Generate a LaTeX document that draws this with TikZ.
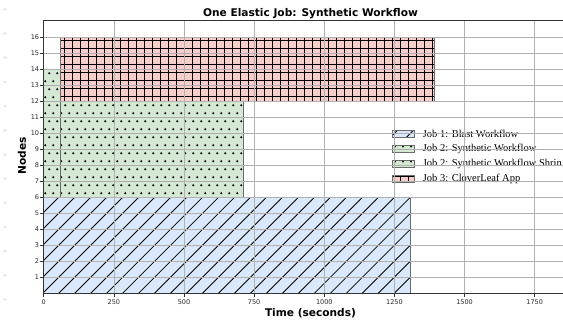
\documentclass[tikz,border=0pt]{standalone}
\usepackage{fontspec}
\newfontfamily\plotsans{DejaVu Sans}
\newfontfamily\legserif{Liberation Serif}
\usetikzlibrary{patterns.meta}

\definecolor{blastfill}{HTML}{DAE8FC}
\definecolor{synthfill}{HTML}{D5E8D4}
\definecolor{cloverfill}{HTML}{F8CECC}
\definecolor{gridc}{HTML}{B0B0B0}
\definecolor{spinec}{HTML}{333333}
\definecolor{edgec}{HTML}{6A6A6A}
\definecolor{marginmark}{HTML}{E8E8E8}

\tikzset{
  barEdge/.style={draw=edgec, line width=1.1pt},
  gridline/.style={draw=gridc, line width=0.8pt},
  spine/.style={draw=spinec, line width=1.2pt},
  tickmark/.style={draw=spinec, line width=0.8pt},
  blastHatch/.style={pattern={Lines[angle=45,distance=11.3pt,line width=0.85pt]}, pattern color=black},
  cloverHatch/.style={pattern={Hatch[angle=0,distance=8pt,line width=0.85pt]}, pattern color=black},
  ticklabel/.style={font=\plotsans\fontsize{6.5}{7}\selectfont, text=black!85, inner sep=0pt},
  axislabel/.style={font=\plotsans\bfseries\fontsize{10.6}{12}\selectfont, inner sep=0pt},
  legtext/.style={font=\legserif\fontsize{10.5}{12}\selectfont, anchor=west, inner sep=0pt},
  legpatch/.style={minimum width=22pt, minimum height=7pt, inner sep=0pt, draw=edgec, line width=0.9pt},
  hatchdot/.style={fill=black}
}

\begin{document}
\begin{tikzpicture}[x=1pt,y=1pt]
\useasboundingbox (0,0) rectangle (563,320);
\clip (0,0) rectangle (563,320);

% faint marks down the left margin
\foreach \k in {0,...,12}
  \fill[marginmark] (5,{310.7-24.2*\k}) circle[radius=1.8pt];

% ---- bars, in data units (seconds, nodes) ----
\begin{scope}[shift={(43.8pt,26.7pt)}, x=0.2805pt, y=16pt]
  % Job 1: Blast Workflow
  \draw[barEdge, preaction={fill=blastfill}, blastHatch] (0,0) rectangle (1308,6);

  % Job 2: Synthetic Workflow and its shrunk phase
  \fill[synthfill] (0,6) rectangle (60,14) (60,6) rectangle (712,12);
  \begin{scope}
    \clip (0,6) rectangle (60,14) (60,6) rectangle (712,12);
    \foreach \j in {0,...,15}
      \foreach \i in {0,...,25}
        \fill[hatchdot] ({\i*28.52+mod(\j,2)*14.26+5},{6.25+\j*0.5}) circle[radius=1.15pt];
  \end{scope}
  \draw[barEdge] (0,6) rectangle (60,14);
  \draw[barEdge] (60,6) rectangle (712,12);

  % Job 3: CloverLeaf App
  \draw[barEdge, preaction={fill=cloverfill}, cloverHatch] (60,12) rectangle (1392,16);
\end{scope}

% ---- legend ----
\node[legpatch, preaction={fill=blastfill}, blastHatch] (p1) at (403,186.2) {};
\node[legtext] (l1) at (422.7,186.2) {Job 1: Blast Workflow};

\node[legpatch, fill=synthfill] (p2) at (403,171) {};
\foreach \dx in {-8,0,8}
  \fill[hatchdot] ([xshift=\dx pt, yshift=-1.5pt]p2.north) circle[radius=1pt];
\node[legtext] (l2) at (422.7,171) {Job 2: Synthetic Workflow};

\node[legpatch, fill=synthfill] (p3) at (403,155.8) {};
\foreach \dx in {-8,0,8}
  \fill[hatchdot] ([xshift=\dx pt, yshift=-1.5pt]p3.north) circle[radius=1pt];
\node[legtext] (l3) at (422.7,155.8) {Job 2: Synthetic Workflow Shrin};

\node[legpatch, preaction={fill=cloverfill}, cloverHatch] (p4) at (403,140.6) {};
\node[legtext] (l4) at (422.7,140.6) {Job 3: CloverLeaf App};

% ---- grid, spines, ticks ----
\begin{scope}[shift={(43.8pt,26.7pt)}, x=0.2805pt, y=16pt]
  \foreach \t in {250,500,...,1750}
    \draw[gridline] (\t,0) -- (\t,17.04);
  \foreach \n in {1,...,16}
    \draw[gridline] (0,\n) -- (1860,\n);

  \draw[spine] (1860,17.04) -- (0,17.04) -- (0,0) -- (1860,0);

  \foreach \n in {1,...,16}
    \draw[tickmark] (0,\n) -- ++(-3.5pt,0)
      node[ticklabel, anchor=east, xshift=-0.8pt, name=yt\n] {\n};
  \foreach \t in {0,250,...,1750}
    \draw[tickmark] (\t,0) -- ++(0,-3.5pt)
      node[ticklabel, anchor=center, yshift=-4.9pt, name=xt\t] {\t};
\end{scope}

% ---- titles ----
\node[axislabel] (title) at (310.5,306.7) {One Elastic Job: Synthetic Workflow};
\node[axislabel] (xlabel) at (310.5,7.3) {Time (seconds)};
\node[axislabel, rotate=90] (ylabel) at (22,164) {Nodes};
\end{tikzpicture}
\end{document}
